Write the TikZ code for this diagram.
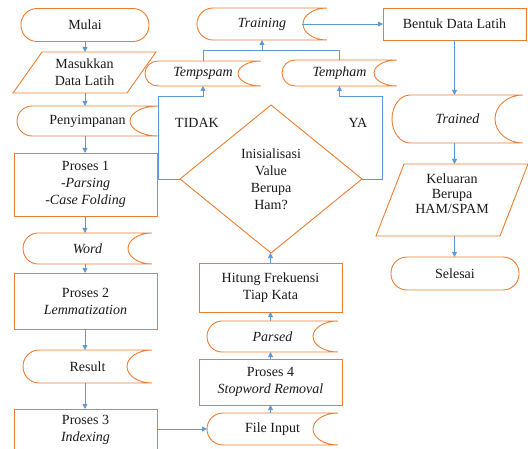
\documentclass[tikz,border=0pt]{standalone}
\usepackage{fontspec}
\setmainfont{Liberation Serif}
\newfontfamily\tnrfont{Liberation Serif}
\usetikzlibrary{arrows.meta,calc}
\definecolor{org}{HTML}{ED7D31}
\definecolor{blu}{HTML}{5B9BD5}
\tikzset{
  base/.style={inner sep=1pt, outer sep=0pt, align=center, font=\tnrfont\fontsize{14}{17}\selectfont, text=black!90},
  procbox/.style={base, draw=org, line width=0.9pt, minimum width=143pt},
  term/.style={base, draw=org, line width=0.9pt, rounded corners=16pt, minimum width=128pt, minimum height=33pt},
  shp/.style={draw=org, line width=0.9pt},
  flow/.style={draw=blu, line width=0.8pt, -{Triangle[length=5pt,width=5pt]}},
  link/.style={draw=blu, line width=0.8pt},
  lbl/.style={base},
}
% stored data outline: node, left x-radius, right x-radius, half height
\newcommand\sdraw[4]{%
  \draw[shp] ([xshift=#2pt]#1.north west) -- (#1.north east)
    arc[start angle=90,end angle=270,x radius=#3pt,y radius=#4pt]
    -- ([xshift=#2pt]#1.south west)
    arc[start angle=270,end angle=90,x radius=#2pt,y radius=#4pt] -- cycle;}
% parallelogram outline: node, slant
\newcommand\pgdraw[2]{%
  \draw[shp] ([xshift=#2pt]#1.north west) -- (#1.north east)
    -- ([xshift=-#2pt]#1.south east) -- (#1.south west) -- cycle;}
\begin{document}
\begin{tikzpicture}[x=1pt,y=1pt]
\clip (0,0) rectangle (528,448);
% left column
\node[term] (mulai) at (85,423) {Mulai};
\node[base, minimum width=143pt, minimum height=41pt] (mas) at (84.5,375.5) {Masukkan\\Data Latih};
\pgdraw{mas}{29}
\node[base, minimum width=141pt, minimum height=30pt] (pen) at (87.5,327) {Penyimpanan};
\sdraw{pen}{15}{28}{15}
\node[procbox, minimum height=63pt] (p1) at (85.5,263.5) {Proses 1\\\textit{-Parsing}\\\textit{-Case Folding}};
\node[base, minimum width=129pt, minimum height=31pt] (word) at (87.5,199.5) {\textit{Word}};
\sdraw{word}{15}{24}{15.5}
\node[procbox, minimum height=56pt] (p2) at (85.5,147) {Proses 2\\\textit{Lemmatization}};
\node[base, minimum width=129pt, minimum height=33pt] (res) at (87.5,81.5) {Result};
\sdraw{res}{16}{25}{16.5}
\node[procbox, minimum height=42pt] (p3) at (85.5,18) {Proses 3\\\textit{Indexing}};
% middle column
\node[base, minimum width=131pt, minimum height=32pt] (fi) at (272.5,19) {File Input};
\sdraw{fi}{16}{25}{16}
\node[procbox, minimum height=46pt] (p4) at (270.5,66) {Proses 4\\\textit{Stopword Removal}};
\node[base, minimum width=131pt, minimum height=31pt] (pa) at (272.5,111.5) {\textit{Parsed}};
\sdraw{pa}{15}{25}{15.5}
\node[procbox, minimum height=49pt] (hit) at (270.5,160.5) {Hitung Frekuensi\\Tiap Kata};
\node[base, minimum width=182pt, minimum height=148pt] (dm) at (271,269) {Inisialisasi\\Value\\Berupa\\Ham?};
\draw[shp] (dm.north) -- (dm.east) -- (dm.south) -- (dm.west) -- cycle;
\node[lbl] (tidak) at (197,325) {TIDAK};
\node[lbl] (ya) at (358,325) {YA};
\node[base, minimum width=116pt, minimum height=25pt] (tsp) at (203,374.5) {\textit{Tempspam}};
\sdraw{tsp}{13}{23}{12.5}
\node[base, minimum width=115pt, minimum height=26pt] (tph) at (339.5,375) {\textit{Tempham}};
\sdraw{tph}{13}{23}{13}
\node[base, minimum width=130pt, minimum height=32pt] (trn) at (262,424) {\textit{Training}};
\sdraw{trn}{16}{24}{16}
% right column
\node[procbox, minimum height=32pt] (bdl) at (454.5,424) {Bentuk Data Latih};
\node[base, minimum width=131pt, minimum height=48pt] (trd) at (457.5,329) {\textit{Trained}};
\sdraw{trd}{18}{28}{24}
\node[base, minimum width=152pt, minimum height=72pt] (kel) at (452,248) {};
\pgdraw{kel}{28}
\node[base, font=\tnrfont\fontsize{14}{15}\selectfont] (keltext) at (452,254) {Keluaran\\Berupa\\HAM/SPAM};
\node[term] (sel) at (455,174.5) {Selesai};
% connectors
\coordinate (lcorner) at (158,352);
\coordinate (rcorner) at (382,352);
\coordinate (join) at (262,398);
\draw[flow] (mulai.south) -- (mulai.south |- mas.north);
\draw[flow] (mulai.south |- mas.south) -- (mulai.south |- pen.north);
\draw[flow] (mulai.south |- pen.south) -- (mulai.south |- p1.north);
\draw[flow] (mulai.south |- p1.south) -- (mulai.south |- word.north);
\draw[flow] (mulai.south |- word.south) -- (mulai.south |- p2.north);
\draw[flow] (mulai.south |- p2.south) -- (mulai.south |- res.north);
\draw[flow] (mulai.south |- res.south) -- (mulai.south |- p3.north);
\draw[flow] (p3.east |- fi.west) -- (fi.west);
\draw[flow] (p4.south |- fi.north) -- (p4.south);
\draw[flow] (p4.north) -- (p4.north |- pa.south);
\draw[flow] (p4.north |- pa.north) -- (hit.south);
\draw[flow] (hit.north) -- (hit.north |- dm.south);
\draw[flow] (dm.west) -| (lcorner) -| (tsp.south);
\draw[flow] (dm.east) -| (rcorner) -| (tph.south);
\draw[link] (tsp.north) |- (tph.north |- join) -- (tph.north);
\draw[flow] (join) -- (join |- trn.south);
\draw[flow] ([xshift=-25pt]trn.east) -- (bdl.west);
\draw[flow] (bdl.south) -- (bdl.south |- trd.north);
\draw[flow] (bdl.south |- trd.south) -- (bdl.south |- kel.north);
\draw[flow] (bdl.south |- kel.south) -- (bdl.south |- sel.north);
\end{tikzpicture}
\end{document}
